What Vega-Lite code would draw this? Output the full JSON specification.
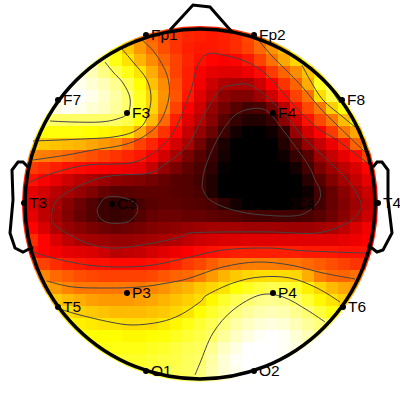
{"$schema":"https://vega.github.io/schema/vega-lite/v6.json","width":400,"height":400,"padding":0,"autosize":{"type":"none"},"background":"white","view":{"stroke":null},
"datasets":{
"cells":[
{"x":-60,"y":180,"v":62},{"x":-48,"y":180,"v":55},{"x":-36,"y":180,"v":50},{"x":-24,"y":180,"v":47},{"x":-12,"y":180,"v":44},{"x":0,"y":180,"v":43},{"x":12,"y":180,"v":43},{"x":24,"y":180,"v":45},{"x":36,"y":180,"v":47},{"x":48,"y":180,"v":50},{"x":60,"y":180,"v":55},
{"x":-84,"y":168,"v":75},{"x":-72,"y":168,"v":68},{"x":-60,"y":168,"v":58},{"x":-48,"y":168,"v":52},{"x":-36,"y":168,"v":48},{"x":-24,"y":168,"v":45},{"x":-12,"y":168,"v":43},{"x":0,"y":168,"v":42},{"x":12,"y":168,"v":41},{"x":24,"y":168,"v":42},{"x":36,"y":168,"v":44},{"x":48,"y":168,"v":48},{"x":60,"y":168,"v":54},{"x":72,"y":168,"v":60},{"x":84,"y":168,"v":66},
{"x":-108,"y":156,"v":90},{"x":-96,"y":156,"v":83},{"x":-84,"y":156,"v":74},{"x":-72,"y":156,"v":67},{"x":-60,"y":156,"v":60},{"x":-48,"y":156,"v":54},{"x":-36,"y":156,"v":49},{"x":-24,"y":156,"v":45},{"x":-12,"y":156,"v":42},{"x":0,"y":156,"v":41},{"x":12,"y":156,"v":41},{"x":24,"y":156,"v":42},{"x":36,"y":156,"v":44},{"x":48,"y":156,"v":47},{"x":60,"y":156,"v":53},{"x":72,"y":156,"v":59},{"x":84,"y":156,"v":65},{"x":96,"y":156,"v":72},{"x":108,"y":156,"v":78},
{"x":-120,"y":144,"v":95},{"x":-108,"y":144,"v":91},{"x":-96,"y":144,"v":85},{"x":-84,"y":144,"v":77},{"x":-72,"y":144,"v":71},{"x":-60,"y":144,"v":64},{"x":-48,"y":144,"v":58},{"x":-36,"y":144,"v":52},{"x":-24,"y":144,"v":47},{"x":-12,"y":144,"v":43},{"x":0,"y":144,"v":40},{"x":12,"y":144,"v":38},{"x":24,"y":144,"v":37},{"x":36,"y":144,"v":38},{"x":48,"y":144,"v":41},{"x":60,"y":144,"v":47},{"x":72,"y":144,"v":54},{"x":84,"y":144,"v":62},{"x":96,"y":144,"v":69},{"x":108,"y":144,"v":75},{"x":120,"y":144,"v":80},
{"x":-132,"y":132,"v":97},{"x":-120,"y":132,"v":97},{"x":-108,"y":132,"v":93},{"x":-96,"y":132,"v":88},{"x":-84,"y":132,"v":83},{"x":-72,"y":132,"v":77},{"x":-60,"y":132,"v":71},{"x":-48,"y":132,"v":63},{"x":-36,"y":132,"v":55},{"x":-24,"y":132,"v":47},{"x":-12,"y":132,"v":42},{"x":0,"y":132,"v":37},{"x":12,"y":132,"v":34},{"x":24,"y":132,"v":33},{"x":36,"y":132,"v":33},{"x":48,"y":132,"v":35},{"x":60,"y":132,"v":39},{"x":72,"y":132,"v":46},{"x":84,"y":132,"v":52},{"x":96,"y":132,"v":58},{"x":108,"y":132,"v":66},{"x":120,"y":132,"v":72},{"x":132,"y":132,"v":80},
{"x":-144,"y":120,"v":100},{"x":-132,"y":120,"v":100},{"x":-120,"y":120,"v":98},{"x":-108,"y":120,"v":96},{"x":-96,"y":120,"v":93},{"x":-84,"y":120,"v":89},{"x":-72,"y":120,"v":83},{"x":-60,"y":120,"v":75},{"x":-48,"y":120,"v":66},{"x":-36,"y":120,"v":58},{"x":-24,"y":120,"v":49},{"x":-12,"y":120,"v":42},{"x":0,"y":120,"v":36},{"x":12,"y":120,"v":30},{"x":24,"y":120,"v":26},{"x":36,"y":120,"v":25},{"x":48,"y":120,"v":25},{"x":60,"y":120,"v":30},{"x":72,"y":120,"v":37},{"x":84,"y":120,"v":45},{"x":96,"y":120,"v":52},{"x":108,"y":120,"v":63},{"x":120,"y":120,"v":78},{"x":132,"y":120,"v":87},{"x":144,"y":120,"v":88},
{"x":-156,"y":108,"v":95},{"x":-144,"y":108,"v":98},{"x":-132,"y":108,"v":100},{"x":-120,"y":108,"v":100},{"x":-108,"y":108,"v":98},{"x":-96,"y":108,"v":95},{"x":-84,"y":108,"v":91},{"x":-72,"y":108,"v":86},{"x":-60,"y":108,"v":78},{"x":-48,"y":108,"v":69},{"x":-36,"y":108,"v":59},{"x":-24,"y":108,"v":50},{"x":-12,"y":108,"v":41},{"x":0,"y":108,"v":33},{"x":12,"y":108,"v":27},{"x":24,"y":108,"v":21},{"x":36,"y":108,"v":19},{"x":48,"y":108,"v":19},{"x":60,"y":108,"v":23},{"x":72,"y":108,"v":30},{"x":84,"y":108,"v":39},{"x":96,"y":108,"v":47},{"x":108,"y":108,"v":54},{"x":120,"y":108,"v":70},{"x":132,"y":108,"v":82},{"x":144,"y":108,"v":88},{"x":156,"y":108,"v":92},
{"x":-156,"y":96,"v":93},{"x":-144,"y":96,"v":97},{"x":-132,"y":96,"v":99},{"x":-120,"y":96,"v":98},{"x":-108,"y":96,"v":96},{"x":-96,"y":96,"v":94},{"x":-84,"y":96,"v":90},{"x":-72,"y":96,"v":86},{"x":-60,"y":96,"v":78},{"x":-48,"y":96,"v":69},{"x":-36,"y":96,"v":58},{"x":-24,"y":96,"v":47},{"x":-12,"y":96,"v":37},{"x":0,"y":96,"v":30},{"x":12,"y":96,"v":22},{"x":24,"y":96,"v":17},{"x":36,"y":96,"v":13},{"x":48,"y":96,"v":10},{"x":60,"y":96,"v":11},{"x":72,"y":96,"v":17},{"x":84,"y":96,"v":27},{"x":96,"y":96,"v":40},{"x":108,"y":96,"v":48},{"x":120,"y":96,"v":55},{"x":132,"y":96,"v":68},{"x":144,"y":96,"v":76},{"x":156,"y":96,"v":82},
{"x":-168,"y":84,"v":80},{"x":-156,"y":84,"v":84},{"x":-144,"y":84,"v":85},{"x":-132,"y":84,"v":85},{"x":-120,"y":84,"v":85},{"x":-108,"y":84,"v":85},{"x":-96,"y":84,"v":85},{"x":-84,"y":84,"v":85},{"x":-72,"y":84,"v":82},{"x":-60,"y":84,"v":75},{"x":-48,"y":84,"v":65},{"x":-36,"y":84,"v":53},{"x":-24,"y":84,"v":42},{"x":-12,"y":84,"v":33},{"x":0,"y":84,"v":27},{"x":12,"y":84,"v":20},{"x":24,"y":84,"v":13},{"x":36,"y":84,"v":8},{"x":48,"y":84,"v":5},{"x":60,"y":84,"v":5},{"x":72,"y":84,"v":8},{"x":84,"y":84,"v":20},{"x":96,"y":84,"v":30},{"x":108,"y":84,"v":40},{"x":120,"y":84,"v":48},{"x":132,"y":84,"v":55},{"x":144,"y":84,"v":65},{"x":156,"y":84,"v":74},{"x":168,"y":84,"v":82},
{"x":-168,"y":72,"v":74},{"x":-156,"y":72,"v":76},{"x":-144,"y":72,"v":76},{"x":-132,"y":72,"v":76},{"x":-120,"y":72,"v":76},{"x":-108,"y":72,"v":75},{"x":-96,"y":72,"v":74},{"x":-84,"y":72,"v":73},{"x":-72,"y":72,"v":71},{"x":-60,"y":72,"v":63},{"x":-48,"y":72,"v":53},{"x":-36,"y":72,"v":45},{"x":-24,"y":72,"v":38},{"x":-12,"y":72,"v":29},{"x":0,"y":72,"v":22},{"x":12,"y":72,"v":16},{"x":24,"y":72,"v":9},{"x":36,"y":72,"v":3},{"x":48,"y":72,"v":0},{"x":60,"y":72,"v":0},{"x":72,"y":72,"v":2},{"x":84,"y":72,"v":7},{"x":96,"y":72,"v":22},{"x":108,"y":72,"v":31},{"x":120,"y":72,"v":38},{"x":132,"y":72,"v":46},{"x":144,"y":72,"v":55},{"x":156,"y":72,"v":62},{"x":168,"y":72,"v":70},
{"x":-180,"y":60,"v":68},{"x":-168,"y":60,"v":68},{"x":-156,"y":60,"v":67},{"x":-144,"y":60,"v":66},{"x":-132,"y":60,"v":65},{"x":-120,"y":60,"v":64},{"x":-108,"y":60,"v":62},{"x":-96,"y":60,"v":60},{"x":-84,"y":60,"v":58},{"x":-72,"y":60,"v":53},{"x":-60,"y":60,"v":47},{"x":-48,"y":60,"v":43},{"x":-36,"y":60,"v":38},{"x":-24,"y":60,"v":31},{"x":-12,"y":60,"v":25},{"x":0,"y":60,"v":17},{"x":12,"y":60,"v":10},{"x":24,"y":60,"v":4},{"x":36,"y":60,"v":0},{"x":48,"y":60,"v":0},{"x":60,"y":60,"v":0},{"x":72,"y":60,"v":0},{"x":84,"y":60,"v":5},{"x":96,"y":60,"v":13},{"x":108,"y":60,"v":22},{"x":120,"y":60,"v":29},{"x":132,"y":60,"v":35},{"x":144,"y":60,"v":41},{"x":156,"y":60,"v":52},{"x":168,"y":60,"v":60},{"x":180,"y":60,"v":65},
{"x":-180,"y":48,"v":60},{"x":-168,"y":48,"v":57},{"x":-156,"y":48,"v":56},{"x":-144,"y":48,"v":55},{"x":-132,"y":48,"v":53},{"x":-120,"y":48,"v":51},{"x":-108,"y":48,"v":49},{"x":-96,"y":48,"v":47},{"x":-84,"y":48,"v":45},{"x":-72,"y":48,"v":43},{"x":-60,"y":48,"v":41},{"x":-48,"y":48,"v":37},{"x":-36,"y":48,"v":31},{"x":-24,"y":48,"v":25},{"x":-12,"y":48,"v":18},{"x":0,"y":48,"v":13},{"x":12,"y":48,"v":9},{"x":24,"y":48,"v":3},{"x":36,"y":48,"v":0},{"x":48,"y":48,"v":0},{"x":60,"y":48,"v":0},{"x":72,"y":48,"v":0},{"x":84,"y":48,"v":2},{"x":96,"y":48,"v":8},{"x":108,"y":48,"v":13},{"x":120,"y":48,"v":23},{"x":132,"y":48,"v":29},{"x":144,"y":48,"v":34},{"x":156,"y":48,"v":39},{"x":168,"y":48,"v":47},{"x":180,"y":48,"v":55},
{"x":-180,"y":36,"v":48},{"x":-168,"y":36,"v":46},{"x":-156,"y":36,"v":44},{"x":-144,"y":36,"v":42},{"x":-132,"y":36,"v":40},{"x":-120,"y":36,"v":39},{"x":-108,"y":36,"v":38},{"x":-96,"y":36,"v":37},{"x":-84,"y":36,"v":36},{"x":-72,"y":36,"v":35},{"x":-60,"y":36,"v":34},{"x":-48,"y":36,"v":29},{"x":-36,"y":36,"v":22},{"x":-24,"y":36,"v":18},{"x":-12,"y":36,"v":14},{"x":0,"y":36,"v":11},{"x":12,"y":36,"v":7},{"x":24,"y":36,"v":1},{"x":36,"y":36,"v":0},{"x":48,"y":36,"v":0},{"x":60,"y":36,"v":0},{"x":72,"y":36,"v":0},{"x":84,"y":36,"v":0},{"x":96,"y":36,"v":3},{"x":108,"y":36,"v":10},{"x":120,"y":36,"v":18},{"x":132,"y":36,"v":23},{"x":144,"y":36,"v":28},{"x":156,"y":36,"v":32},{"x":168,"y":36,"v":38},{"x":180,"y":36,"v":45},
{"x":-180,"y":24,"v":42},{"x":-168,"y":24,"v":40},{"x":-156,"y":24,"v":37},{"x":-144,"y":24,"v":34},{"x":-132,"y":24,"v":30},{"x":-120,"y":24,"v":27},{"x":-108,"y":24,"v":25},{"x":-96,"y":24,"v":23},{"x":-84,"y":24,"v":21},{"x":-72,"y":24,"v":20},{"x":-60,"y":24,"v":19},{"x":-48,"y":24,"v":17},{"x":-36,"y":24,"v":15},{"x":-24,"y":24,"v":13},{"x":-12,"y":24,"v":12},{"x":0,"y":24,"v":10},{"x":12,"y":24,"v":5},{"x":24,"y":24,"v":0},{"x":36,"y":24,"v":0},{"x":48,"y":24,"v":0},{"x":60,"y":24,"v":0},{"x":72,"y":24,"v":0},{"x":84,"y":24,"v":0},{"x":96,"y":24,"v":0},{"x":108,"y":24,"v":6},{"x":120,"y":24,"v":13},{"x":132,"y":24,"v":19},{"x":144,"y":24,"v":24},{"x":156,"y":24,"v":29},{"x":168,"y":24,"v":34},{"x":180,"y":24,"v":40},
{"x":-180,"y":12,"v":38},{"x":-168,"y":12,"v":34},{"x":-156,"y":12,"v":31},{"x":-144,"y":12,"v":27},{"x":-132,"y":12,"v":25},{"x":-120,"y":12,"v":22},{"x":-108,"y":12,"v":19},{"x":-96,"y":12,"v":15},{"x":-84,"y":12,"v":13},{"x":-72,"y":12,"v":13},{"x":-60,"y":12,"v":14},{"x":-48,"y":12,"v":14},{"x":-36,"y":12,"v":14},{"x":-24,"y":12,"v":13},{"x":-12,"y":12,"v":12},{"x":0,"y":12,"v":11},{"x":12,"y":12,"v":5},{"x":24,"y":12,"v":0},{"x":36,"y":12,"v":0},{"x":48,"y":12,"v":0},{"x":60,"y":12,"v":0},{"x":72,"y":12,"v":0},{"x":84,"y":12,"v":0},{"x":96,"y":12,"v":0},{"x":108,"y":12,"v":2},{"x":120,"y":12,"v":10},{"x":132,"y":12,"v":15},{"x":144,"y":12,"v":20},{"x":156,"y":12,"v":25},{"x":168,"y":12,"v":30},{"x":180,"y":12,"v":36},
{"x":-180,"y":0,"v":38},{"x":-168,"y":0,"v":32},{"x":-156,"y":0,"v":28},{"x":-144,"y":0,"v":25},{"x":-132,"y":0,"v":20},{"x":-120,"y":0,"v":16},{"x":-108,"y":0,"v":12},{"x":-96,"y":0,"v":9},{"x":-84,"y":0,"v":7},{"x":-72,"y":0,"v":8},{"x":-60,"y":0,"v":11},{"x":-48,"y":0,"v":13},{"x":-36,"y":0,"v":14},{"x":-24,"y":0,"v":14},{"x":-12,"y":0,"v":13},{"x":0,"y":0,"v":12},{"x":12,"y":0,"v":11},{"x":24,"y":0,"v":7},{"x":36,"y":0,"v":3},{"x":48,"y":0,"v":0},{"x":60,"y":0,"v":0},{"x":72,"y":0,"v":0},{"x":84,"y":0,"v":0},{"x":96,"y":0,"v":2},{"x":108,"y":0,"v":5},{"x":120,"y":0,"v":10},{"x":132,"y":0,"v":15},{"x":144,"y":0,"v":19},{"x":156,"y":0,"v":23},{"x":168,"y":0,"v":28},{"x":180,"y":0,"v":34},
{"x":-180,"y":-12,"v":40},{"x":-168,"y":-12,"v":34},{"x":-156,"y":-12,"v":28},{"x":-144,"y":-12,"v":24},{"x":-132,"y":-12,"v":19},{"x":-120,"y":-12,"v":15},{"x":-108,"y":-12,"v":12},{"x":-96,"y":-12,"v":9},{"x":-84,"y":-12,"v":8},{"x":-72,"y":-12,"v":9},{"x":-60,"y":-12,"v":12},{"x":-48,"y":-12,"v":15},{"x":-36,"y":-12,"v":16},{"x":-24,"y":-12,"v":16},{"x":-12,"y":-12,"v":15},{"x":0,"y":-12,"v":15},{"x":12,"y":-12,"v":14},{"x":24,"y":-12,"v":13},{"x":36,"y":-12,"v":12},{"x":48,"y":-12,"v":11},{"x":60,"y":-12,"v":10},{"x":72,"y":-12,"v":10},{"x":84,"y":-12,"v":10},{"x":96,"y":-12,"v":10},{"x":108,"y":-12,"v":11},{"x":120,"y":-12,"v":13},{"x":132,"y":-12,"v":16},{"x":144,"y":-12,"v":20},{"x":156,"y":-12,"v":25},{"x":168,"y":-12,"v":30},{"x":180,"y":-12,"v":35},
{"x":-180,"y":-24,"v":44},{"x":-168,"y":-24,"v":38},{"x":-156,"y":-24,"v":32},{"x":-144,"y":-24,"v":26},{"x":-132,"y":-24,"v":22},{"x":-120,"y":-24,"v":20},{"x":-108,"y":-24,"v":18},{"x":-96,"y":-24,"v":16},{"x":-84,"y":-24,"v":15},{"x":-72,"y":-24,"v":16},{"x":-60,"y":-24,"v":17},{"x":-48,"y":-24,"v":19},{"x":-36,"y":-24,"v":20},{"x":-24,"y":-24,"v":21},{"x":-12,"y":-24,"v":22},{"x":0,"y":-24,"v":23},{"x":12,"y":-24,"v":24},{"x":24,"y":-24,"v":24},{"x":36,"y":-24,"v":24},{"x":48,"y":-24,"v":23},{"x":60,"y":-24,"v":23},{"x":72,"y":-24,"v":23},{"x":84,"y":-24,"v":23},{"x":96,"y":-24,"v":23},{"x":108,"y":-24,"v":23},{"x":120,"y":-24,"v":24},{"x":132,"y":-24,"v":25},{"x":144,"y":-24,"v":28},{"x":156,"y":-24,"v":32},{"x":168,"y":-24,"v":36},{"x":180,"y":-24,"v":40},
{"x":-180,"y":-36,"v":50},{"x":-168,"y":-36,"v":44},{"x":-156,"y":-36,"v":38},{"x":-144,"y":-36,"v":32},{"x":-132,"y":-36,"v":28},{"x":-120,"y":-36,"v":25},{"x":-108,"y":-36,"v":24},{"x":-96,"y":-36,"v":23},{"x":-84,"y":-36,"v":22},{"x":-72,"y":-36,"v":22},{"x":-60,"y":-36,"v":23},{"x":-48,"y":-36,"v":24},{"x":-36,"y":-36,"v":25},{"x":-24,"y":-36,"v":26},{"x":-12,"y":-36,"v":28},{"x":0,"y":-36,"v":30},{"x":12,"y":-36,"v":31},{"x":24,"y":-36,"v":32},{"x":36,"y":-36,"v":32},{"x":48,"y":-36,"v":33},{"x":60,"y":-36,"v":33},{"x":72,"y":-36,"v":33},{"x":84,"y":-36,"v":33},{"x":96,"y":-36,"v":33},{"x":108,"y":-36,"v":33},{"x":120,"y":-36,"v":33},{"x":132,"y":-36,"v":33},{"x":144,"y":-36,"v":34},{"x":156,"y":-36,"v":35},{"x":168,"y":-36,"v":37},{"x":180,"y":-36,"v":42},
{"x":-180,"y":-48,"v":45},{"x":-168,"y":-48,"v":40},{"x":-156,"y":-48,"v":38},{"x":-144,"y":-48,"v":36},{"x":-132,"y":-48,"v":34},{"x":-120,"y":-48,"v":33},{"x":-108,"y":-48,"v":32},{"x":-96,"y":-48,"v":30},{"x":-84,"y":-48,"v":27},{"x":-72,"y":-48,"v":28},{"x":-60,"y":-48,"v":29},{"x":-48,"y":-48,"v":31},{"x":-36,"y":-48,"v":33},{"x":-24,"y":-48,"v":35},{"x":-12,"y":-48,"v":37},{"x":0,"y":-48,"v":39},{"x":12,"y":-48,"v":40},{"x":24,"y":-48,"v":41},{"x":36,"y":-48,"v":42},{"x":48,"y":-48,"v":42},{"x":60,"y":-48,"v":42},{"x":72,"y":-48,"v":42},{"x":84,"y":-48,"v":42},{"x":96,"y":-48,"v":42},{"x":108,"y":-48,"v":41},{"x":120,"y":-48,"v":41},{"x":132,"y":-48,"v":41},{"x":144,"y":-48,"v":40},{"x":156,"y":-48,"v":40},{"x":168,"y":-48,"v":40},{"x":180,"y":-48,"v":44},
{"x":-168,"y":-60,"v":50},{"x":-156,"y":-60,"v":47},{"x":-144,"y":-60,"v":44},{"x":-132,"y":-60,"v":42},{"x":-120,"y":-60,"v":41},{"x":-108,"y":-60,"v":40},{"x":-96,"y":-60,"v":40},{"x":-84,"y":-60,"v":39},{"x":-72,"y":-60,"v":39},{"x":-60,"y":-60,"v":39},{"x":-48,"y":-60,"v":40},{"x":-36,"y":-60,"v":41},{"x":-24,"y":-60,"v":43},{"x":-12,"y":-60,"v":46},{"x":0,"y":-60,"v":48},{"x":12,"y":-60,"v":51},{"x":24,"y":-60,"v":54},{"x":36,"y":-60,"v":55},{"x":48,"y":-60,"v":56},{"x":60,"y":-60,"v":56},{"x":72,"y":-60,"v":56},{"x":84,"y":-60,"v":55},{"x":96,"y":-60,"v":55},{"x":108,"y":-60,"v":53},{"x":120,"y":-60,"v":51},{"x":132,"y":-60,"v":49},{"x":144,"y":-60,"v":47},{"x":156,"y":-60,"v":45},{"x":168,"y":-60,"v":44},
{"x":-168,"y":-72,"v":60},{"x":-156,"y":-72,"v":57},{"x":-144,"y":-72,"v":53},{"x":-132,"y":-72,"v":51},{"x":-120,"y":-72,"v":49},{"x":-108,"y":-72,"v":48},{"x":-96,"y":-72,"v":47},{"x":-84,"y":-72,"v":47},{"x":-72,"y":-72,"v":47},{"x":-60,"y":-72,"v":47},{"x":-48,"y":-72,"v":48},{"x":-36,"y":-72,"v":50},{"x":-24,"y":-72,"v":52},{"x":-12,"y":-72,"v":53},{"x":0,"y":-72,"v":56},{"x":12,"y":-72,"v":60},{"x":24,"y":-72,"v":64},{"x":36,"y":-72,"v":67},{"x":48,"y":-72,"v":69},{"x":60,"y":-72,"v":70},{"x":72,"y":-72,"v":70},{"x":84,"y":-72,"v":70},{"x":96,"y":-72,"v":69},{"x":108,"y":-72,"v":63},{"x":120,"y":-72,"v":56},{"x":132,"y":-72,"v":53},{"x":144,"y":-72,"v":52},{"x":156,"y":-72,"v":54},{"x":168,"y":-72,"v":57},
{"x":-156,"y":-84,"v":62},{"x":-144,"y":-84,"v":60},{"x":-132,"y":-84,"v":57},{"x":-120,"y":-84,"v":55},{"x":-108,"y":-84,"v":55},{"x":-96,"y":-84,"v":55},{"x":-84,"y":-84,"v":55},{"x":-72,"y":-84,"v":55},{"x":-60,"y":-84,"v":55},{"x":-48,"y":-84,"v":57},{"x":-36,"y":-84,"v":59},{"x":-24,"y":-84,"v":62},{"x":-12,"y":-84,"v":64},{"x":0,"y":-84,"v":67},{"x":12,"y":-84,"v":69},{"x":24,"y":-84,"v":71},{"x":36,"y":-84,"v":75},{"x":48,"y":-84,"v":78},{"x":60,"y":-84,"v":81},{"x":72,"y":-84,"v":83},{"x":84,"y":-84,"v":82},{"x":96,"y":-84,"v":79},{"x":108,"y":-84,"v":73},{"x":120,"y":-84,"v":69},{"x":132,"y":-84,"v":65},{"x":144,"y":-84,"v":62},{"x":156,"y":-84,"v":60},
{"x":-156,"y":-96,"v":70},{"x":-144,"y":-96,"v":67},{"x":-132,"y":-96,"v":65},{"x":-120,"y":-96,"v":63},{"x":-108,"y":-96,"v":61},{"x":-96,"y":-96,"v":60},{"x":-84,"y":-96,"v":60},{"x":-72,"y":-96,"v":60},{"x":-60,"y":-96,"v":61},{"x":-48,"y":-96,"v":62},{"x":-36,"y":-96,"v":64},{"x":-24,"y":-96,"v":66},{"x":-12,"y":-96,"v":68},{"x":0,"y":-96,"v":70},{"x":12,"y":-96,"v":74},{"x":24,"y":-96,"v":79},{"x":36,"y":-96,"v":83},{"x":48,"y":-96,"v":86},{"x":60,"y":-96,"v":88},{"x":72,"y":-96,"v":89},{"x":84,"y":-96,"v":88},{"x":96,"y":-96,"v":85},{"x":108,"y":-96,"v":80},{"x":120,"y":-96,"v":74},{"x":132,"y":-96,"v":71},{"x":144,"y":-96,"v":68},{"x":156,"y":-96,"v":65},
{"x":-144,"y":-108,"v":72},{"x":-132,"y":-108,"v":70},{"x":-120,"y":-108,"v":68},{"x":-108,"y":-108,"v":67},{"x":-96,"y":-108,"v":66},{"x":-84,"y":-108,"v":65},{"x":-72,"y":-108,"v":65},{"x":-60,"y":-108,"v":65},{"x":-48,"y":-108,"v":66},{"x":-36,"y":-108,"v":67},{"x":-24,"y":-108,"v":69},{"x":-12,"y":-108,"v":71},{"x":0,"y":-108,"v":75},{"x":12,"y":-108,"v":79},{"x":24,"y":-108,"v":83},{"x":36,"y":-108,"v":87},{"x":48,"y":-108,"v":90},{"x":60,"y":-108,"v":92},{"x":72,"y":-108,"v":93},{"x":84,"y":-108,"v":92},{"x":96,"y":-108,"v":89},{"x":108,"y":-108,"v":86},{"x":120,"y":-108,"v":81},{"x":132,"y":-108,"v":77},{"x":144,"y":-108,"v":75},
{"x":-132,"y":-120,"v":74},{"x":-120,"y":-120,"v":73},{"x":-108,"y":-120,"v":72},{"x":-96,"y":-120,"v":71},{"x":-84,"y":-120,"v":71},{"x":-72,"y":-120,"v":70},{"x":-60,"y":-120,"v":70},{"x":-48,"y":-120,"v":70},{"x":-36,"y":-120,"v":72},{"x":-24,"y":-120,"v":74},{"x":-12,"y":-120,"v":77},{"x":0,"y":-120,"v":80},{"x":12,"y":-120,"v":83},{"x":24,"y":-120,"v":87},{"x":36,"y":-120,"v":91},{"x":48,"y":-120,"v":94},{"x":60,"y":-120,"v":96},{"x":72,"y":-120,"v":97},{"x":84,"y":-120,"v":96},{"x":96,"y":-120,"v":93},{"x":108,"y":-120,"v":90},{"x":120,"y":-120,"v":87},{"x":132,"y":-120,"v":84},
{"x":-132,"y":-132,"v":76},{"x":-120,"y":-132,"v":76},{"x":-108,"y":-132,"v":75},{"x":-96,"y":-132,"v":75},{"x":-84,"y":-132,"v":75},{"x":-72,"y":-132,"v":74},{"x":-60,"y":-132,"v":74},{"x":-48,"y":-132,"v":75},{"x":-36,"y":-132,"v":76},{"x":-24,"y":-132,"v":78},{"x":-12,"y":-132,"v":80},{"x":0,"y":-132,"v":82},{"x":12,"y":-132,"v":85},{"x":24,"y":-132,"v":90},{"x":36,"y":-132,"v":94},{"x":48,"y":-132,"v":97},{"x":60,"y":-132,"v":99},{"x":72,"y":-132,"v":100},{"x":84,"y":-132,"v":99},{"x":96,"y":-132,"v":96},{"x":108,"y":-132,"v":93},{"x":120,"y":-132,"v":90},{"x":132,"y":-132,"v":88},
{"x":-120,"y":-144,"v":77},{"x":-108,"y":-144,"v":77},{"x":-96,"y":-144,"v":77},{"x":-84,"y":-144,"v":77},{"x":-72,"y":-144,"v":77},{"x":-60,"y":-144,"v":77},{"x":-48,"y":-144,"v":78},{"x":-36,"y":-144,"v":79},{"x":-24,"y":-144,"v":81},{"x":-12,"y":-144,"v":83},{"x":0,"y":-144,"v":84},{"x":12,"y":-144,"v":89},{"x":24,"y":-144,"v":94},{"x":36,"y":-144,"v":97},{"x":48,"y":-144,"v":100},{"x":60,"y":-144,"v":100},{"x":72,"y":-144,"v":100},{"x":84,"y":-144,"v":99},{"x":96,"y":-144,"v":97},{"x":108,"y":-144,"v":95},{"x":120,"y":-144,"v":92},
{"x":-96,"y":-156,"v":79},{"x":-84,"y":-156,"v":79},{"x":-72,"y":-156,"v":79},{"x":-60,"y":-156,"v":79},{"x":-48,"y":-156,"v":80},{"x":-36,"y":-156,"v":81},{"x":-24,"y":-156,"v":82},{"x":-12,"y":-156,"v":84},{"x":0,"y":-156,"v":85},{"x":12,"y":-156,"v":91},{"x":24,"y":-156,"v":96},{"x":36,"y":-156,"v":99},{"x":48,"y":-156,"v":100},{"x":60,"y":-156,"v":100},{"x":72,"y":-156,"v":100},{"x":84,"y":-156,"v":99},{"x":96,"y":-156,"v":97},
{"x":-84,"y":-168,"v":80},{"x":-72,"y":-168,"v":80},{"x":-60,"y":-168,"v":81},{"x":-48,"y":-168,"v":82},{"x":-36,"y":-168,"v":82},{"x":-24,"y":-168,"v":83},{"x":-12,"y":-168,"v":84},{"x":0,"y":-168,"v":87},{"x":12,"y":-168,"v":92},{"x":24,"y":-168,"v":96},{"x":36,"y":-168,"v":98},{"x":48,"y":-168,"v":100},{"x":60,"y":-168,"v":100},{"x":72,"y":-168,"v":98},{"x":84,"y":-168,"v":95},
{"x":-60,"y":-180,"v":82},{"x":-48,"y":-180,"v":83},{"x":-36,"y":-180,"v":84},{"x":-24,"y":-180,"v":84},{"x":-12,"y":-180,"v":85},{"x":0,"y":-180,"v":86},{"x":12,"y":-180,"v":90},{"x":24,"y":-180,"v":93},{"x":36,"y":-180,"v":96},{"x":48,"y":-180,"v":98},{"x":60,"y":-180,"v":100}
],
"contours":[
{"c":"a","i":0,"x":-95,"y":142},{"c":"a","i":1,"x":-87,"y":132},{"c":"a","i":2,"x":-77,"y":121},{"c":"a","i":3,"x":-70,"y":106},{"c":"a","i":4,"x":-72,"y":91},{"c":"a","i":5,"x":-83,"y":85},{"c":"a","i":6,"x":-100,"y":82},{"c":"a","i":7,"x":-127,"y":82},{"c":"a","i":8,"x":-150,"y":83},
{"c":"b","i":0,"x":-78,"y":155},{"c":"b","i":1,"x":-67,"y":142},{"c":"b","i":2,"x":-53,"y":124},{"c":"b","i":3,"x":-49,"y":104},{"c":"b","i":4,"x":-55,"y":82},{"c":"b","i":5,"x":-67,"y":72},{"c":"b","i":6,"x":-87,"y":67},{"c":"b","i":7,"x":-117,"y":65},{"c":"b","i":8,"x":-167,"y":63},
{"c":"d","i":0,"x":-58,"y":164},{"c":"d","i":1,"x":-45,"y":151},{"c":"d","i":2,"x":-33,"y":129},{"c":"d","i":3,"x":-31,"y":107},{"c":"d","i":4,"x":-40,"y":82},{"c":"d","i":5,"x":-57,"y":67},{"c":"d","i":6,"x":-77,"y":59},{"c":"d","i":7,"x":-107,"y":54},{"c":"d","i":8,"x":-133,"y":49},{"c":"d","i":9,"x":-167,"y":44},
{"c":"e","i":0,"x":-172,"y":21},{"c":"e","i":1,"x":-147,"y":31},{"c":"e","i":2,"x":-113,"y":39},{"c":"e","i":3,"x":-70,"y":41},{"c":"e","i":4,"x":-47,"y":51},{"c":"e","i":5,"x":-27,"y":71},{"c":"e","i":6,"x":-10,"y":111},{"c":"e","i":7,"x":-3,"y":137},{"c":"e","i":8,"x":7,"y":150},{"c":"e","i":9,"x":23,"y":149},{"c":"e","i":10,"x":47,"y":142},{"c":"e","i":11,"x":67,"y":129},{"c":"e","i":12,"x":87,"y":107},{"c":"e","i":13,"x":103,"y":89},{"c":"e","i":14,"x":120,"y":74},{"c":"e","i":15,"x":137,"y":64},{"c":"e","i":16,"x":170,"y":39},
{"c":"f","i":0,"x":-167,"y":-48},{"c":"f","i":1,"x":-147,"y":-54},{"c":"f","i":2,"x":-113,"y":-61},{"c":"f","i":3,"x":-80,"y":-63},{"c":"f","i":4,"x":-47,"y":-61},{"c":"f","i":5,"x":-10,"y":-53},{"c":"f","i":6,"x":23,"y":-46},{"c":"f","i":7,"x":67,"y":-44},{"c":"f","i":8,"x":107,"y":-47},{"c":"f","i":9,"x":167,"y":-49},
{"c":"g","i":0,"x":-148,"y":-9},{"c":"g","i":1,"x":-143,"y":4},{"c":"g","i":2,"x":-123,"y":17},{"c":"g","i":3,"x":-100,"y":26},{"c":"g","i":4,"x":-80,"y":29},{"c":"g","i":5,"x":-50,"y":31},{"c":"g","i":6,"x":-33,"y":41},{"c":"g","i":7,"x":-20,"y":51},{"c":"g","i":8,"x":-10,"y":62},{"c":"g","i":9,"x":7,"y":94},{"c":"g","i":10,"x":20,"y":114},{"c":"g","i":11,"x":33,"y":119},{"c":"g","i":12,"x":50,"y":119},{"c":"g","i":13,"x":67,"y":107},{"c":"g","i":14,"x":87,"y":87},{"c":"g","i":15,"x":103,"y":67},{"c":"g","i":16,"x":120,"y":51},{"c":"g","i":17,"x":136,"y":36},{"c":"g","i":18,"x":150,"y":21},{"c":"g","i":19,"x":160,"y":4},{"c":"g","i":20,"x":160,"y":-6},{"c":"g","i":21,"x":147,"y":-19},{"c":"g","i":22,"x":117,"y":-29},{"c":"g","i":23,"x":73,"y":-28},{"c":"g","i":24,"x":23,"y":-28},{"c":"g","i":25,"x":-10,"y":-29},{"c":"g","i":26,"x":-20,"y":-33},{"c":"g","i":27,"x":-47,"y":-39},{"c":"g","i":28,"x":-83,"y":-44},{"c":"g","i":29,"x":-107,"y":-41},{"c":"g","i":30,"x":-130,"y":-31},{"c":"g","i":31,"x":-147,"y":-19},{"c":"g","i":32,"x":-148,"y":-9},
{"c":"h","i":0,"x":2,"y":17},{"c":"h","i":1,"x":5,"y":36},{"c":"h","i":2,"x":17,"y":64},{"c":"h","i":3,"x":33,"y":87},{"c":"h","i":4,"x":50,"y":95},{"c":"h","i":5,"x":67,"y":93},{"c":"h","i":6,"x":83,"y":74},{"c":"h","i":7,"x":100,"y":51},{"c":"h","i":8,"x":110,"y":36},{"c":"h","i":9,"x":115,"y":24},{"c":"h","i":10,"x":120,"y":14},{"c":"h","i":11,"x":118,"y":2},{"c":"h","i":12,"x":100,"y":-11},{"c":"h","i":13,"x":63,"y":-11},{"c":"h","i":14,"x":33,"y":-6},{"c":"h","i":15,"x":10,"y":4},{"c":"h","i":16,"x":2,"y":17},
{"c":"j","i":0,"x":-103,"y":-6},{"c":"j","i":1,"x":-95,"y":6},{"c":"j","i":2,"x":-80,"y":7},{"c":"j","i":3,"x":-65,"y":1},{"c":"j","i":4,"x":-63,"y":-9},{"c":"j","i":5,"x":-73,"y":-18},{"c":"j","i":6,"x":-90,"y":-19},{"c":"j","i":7,"x":-100,"y":-14},{"c":"j","i":8,"x":-103,"y":-6},
{"c":"k","i":0,"x":56,"y":168},{"c":"k","i":1,"x":60,"y":162},{"c":"k","i":2,"x":73,"y":147},{"c":"k","i":3,"x":93,"y":127},{"c":"k","i":4,"x":105,"y":114},{"c":"k","i":5,"x":120,"y":96},{"c":"k","i":6,"x":137,"y":79},{"c":"k","i":7,"x":165,"y":52},
{"c":"l","i":0,"x":102,"y":139},{"c":"l","i":1,"x":110,"y":124},{"c":"l","i":2,"x":123,"y":104},{"c":"l","i":3,"x":143,"y":87},{"c":"l","i":4,"x":155,"y":77},
{"c":"m","i":0,"x":130,"y":116},{"c":"m","i":1,"x":140,"y":101},
{"c":"n","i":0,"x":-153,"y":-77},{"c":"n","i":1,"x":-127,"y":-83},{"c":"n","i":2,"x":-93,"y":-84},{"c":"n","i":3,"x":-60,"y":-83},{"c":"n","i":4,"x":-27,"y":-78},{"c":"n","i":5,"x":-10,"y":-74},{"c":"n","i":6,"x":23,"y":-63},{"c":"n","i":7,"x":57,"y":-58},{"c":"n","i":8,"x":90,"y":-61},{"c":"n","i":9,"x":123,"y":-69},{"c":"n","i":10,"x":155,"y":-75},
{"c":"o","i":0,"x":-137,"y":-106},{"c":"o","i":1,"x":-120,"y":-111},{"c":"o","i":2,"x":-90,"y":-118},{"c":"o","i":3,"x":-67,"y":-121},{"c":"o","i":4,"x":-40,"y":-118},{"c":"o","i":5,"x":-20,"y":-111},{"c":"o","i":6,"x":0,"y":-98},{"c":"o","i":7,"x":7,"y":-91},{"c":"o","i":8,"x":33,"y":-79},{"c":"o","i":9,"x":60,"y":-73},{"c":"o","i":10,"x":90,"y":-74},{"c":"o","i":11,"x":117,"y":-84},{"c":"o","i":12,"x":140,"y":-98},
{"c":"p","i":0,"x":-5,"y":-171},{"c":"p","i":1,"x":0,"y":-159},{"c":"p","i":2,"x":13,"y":-129},{"c":"p","i":3,"x":33,"y":-106},{"c":"p","i":4,"x":60,"y":-91},{"c":"p","i":5,"x":83,"y":-93},{"c":"p","i":6,"x":107,"y":-106},{"c":"p","i":7,"x":125,"y":-118}
],
"outline":[
{"c":"nose","i":0,"x":-30,"y":174},{"c":"nose","i":1,"x":-7,"y":199},{"c":"nose","i":2,"x":10,"y":197},{"c":"nose","i":3,"x":32,"y":172},
{"c":"earL","i":0,"x":-172,"y":37},{"c":"earL","i":1,"x":-177,"y":42},{"c":"earL","i":2,"x":-182,"y":42},{"c":"earL","i":3,"x":-188,"y":34},{"c":"earL","i":4,"x":-187,"y":4},{"c":"earL","i":5,"x":-190,"y":-29},{"c":"earL","i":6,"x":-185,"y":-44},{"c":"earL","i":7,"x":-177,"y":-48},{"c":"earL","i":8,"x":-167,"y":-43},
{"c":"earR","i":0,"x":173,"y":37},{"c":"earR","i":1,"x":177,"y":42},{"c":"earR","i":2,"x":182,"y":42},{"c":"earR","i":3,"x":188,"y":34},{"c":"earR","i":4,"x":188,"y":4},{"c":"earR","i":5,"x":192,"y":-29},{"c":"earR","i":6,"x":183,"y":-46},{"c":"earR","i":7,"x":177,"y":-48},{"c":"earR","i":8,"x":168,"y":-41}
],
"sites":[
{"n":"Fp1","x":-54,"y":169},{"n":"Fp2","x":54,"y":169},{"n":"F7","x":-142,"y":104},{"n":"F8","x":142,"y":104},{"n":"F3","x":-73,"y":91},{"n":"F4","x":73,"y":91},{"n":"T3","x":-176,"y":1},{"n":"T4","x":178,"y":1},{"n":"C3","x":-88,"y":0},{"n":"C4","x":90,"y":0},{"n":"T5","x":-142,"y":-103},{"n":"T6","x":143,"y":-103},{"n":"P3","x":-73,"y":-89},{"n":"P4","x":73,"y":-89},{"n":"O1","x":-54,"y":-167},{"n":"O2","x":54,"y":-167}
],
"centre":[{"x":0,"y":0}]
},
"encoding":{
"x":{"field":"x","type":"quantitative","axis":null,"scale":{"domain":[-200,200],"nice":false,"zero":false}},
"y":{"field":"y","type":"quantitative","axis":null,"scale":{"domain":[-196,204],"nice":false,"zero":false}}
},
"layer":[
{"data":{"name":"cells"},"mark":{"type":"rect","width":12,"height":12,"clip":false},"encoding":{"color":{"field":"v","type":"quantitative","legend":null,"scale":{"domain":[0,37.5,75,100],"range":["#000000","#ff0000","#ffff00","#ffffff"],"interpolate":"rgb"}}}},
{"data":{"name":"centre"},"mark":{"type":"point","shape":"circle","filled":false,"stroke":"white","strokeWidth":28,"opacity":1,"size":147456}},
{"data":{"name":"contours"},"mark":{"type":"line","stroke":"#444444","strokeWidth":1,"interpolate":"cardinal"},"encoding":{"detail":{"field":"c"},"order":{"field":"i","type":"quantitative"}}},
{"data":{"name":"outline"},"mark":{"type":"line","stroke":"black","strokeWidth":3,"interpolate":"linear"},"encoding":{"detail":{"field":"c"},"order":{"field":"i","type":"quantitative"}}},
{"data":{"name":"centre"},"mark":{"type":"point","shape":"circle","filled":false,"stroke":"black","strokeWidth":3.5,"opacity":1,"size":122500}},
{"data":{"name":"sites"},"mark":{"type":"point","shape":"circle","filled":true,"color":"black","opacity":1,"size":36}},
{"data":{"name":"sites"},"mark":{"type":"text","align":"left","baseline":"middle","dx":5,"font":"Liberation Sans","fontSize":15.5,"color":"black"},"encoding":{"text":{"field":"n"}}}
]}
